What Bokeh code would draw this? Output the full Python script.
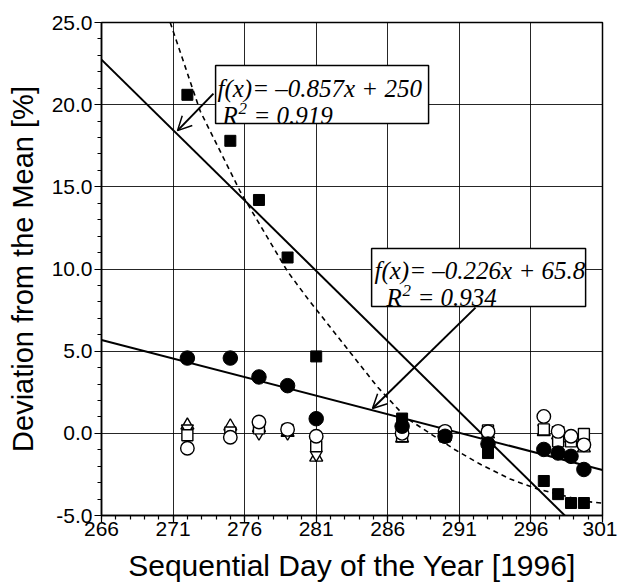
from bokeh.plotting import figure
from bokeh.models import FixedTicker, PrintfTickFormatter, Arrow, OpenHead
from bokeh.core.properties import value
from bokeh.embed import file_html
from bokeh.resources import INLINE

# ---- data ----
days = [272, 275, 277, 279, 281, 287, 290, 293, 296.9, 297.9, 298.8, 299.7]
filled_squares = [20.6, 17.8, 14.2, 10.7, 4.68, 0.9, -0.2, -1.2, -2.9, -3.7, -4.24, -4.24]
filled_circles = [4.58, 4.58, 3.43, 2.9, 0.89, 0.43, -0.18, -0.65, -0.98, -1.2, -1.4, -2.2]
open_circles = [-0.91, -0.24, 0.69, 0.24, -0.18, 0.0, 0.12, 0.1, 1.03, 0.12, -0.18, -0.7]
open_squares = [-0.12, 0.05, 0.3, 0.2, -0.79, -0.18, 0.05, 0.18, 0.24, -0.49, -0.49, -0.04]
open_triangles = [0.49, 0.43, 0.32, 0.05, -1.46, -0.3, -0.2, -0.05, 0.1, -0.1, -0.3, -0.9]
open_inv_triangles = [0.3, 0.1, 0.0, 0.0, -1.3, -0.1, 0.0, 0.0, 0.3, 0.2, -0.3, -0.6]

fit1_slope, fit1_icpt = -0.857, 250.7
fit2_slope, fit2_icpt = -0.226, 65.8
fit_x = [266, 301]

dash_x = [270.8, 272.9, 275.7, 279.0, 280.4, 285.3, 287.3, 290.7, 292.5, 294.6, 296.5, 299.9, 301.0]
dash_y = [25.0, 19.6, 14.7, 9.85, 8.2, 2.8, 0.93, -1.0, -1.9, -2.8, -3.4, -4.15, -4.25]

x_ticks = [266, 271, 276, 281, 286, 291, 296, 301]
y_ticks = [-5, 0, 5, 10, 15, 20, 25]

fit1_eq = "f(x)= \u20130.857x + 250"
fit1_r2 = "= 0.919"
fit2_eq = "f(x)= \u20130.226x + 65.8"
fit2_r2 = "= 0.934"

SANS = "Liberation Sans"
SERIF = "Liberation Serif"

p = figure(width=617, height=576, output_backend="svg", toolbar_location=None,
           x_range=(266, 301), y_range=(-5, 25),
           min_border_left=101, min_border_right=15, min_border_top=22, min_border_bottom=61)
p.frame_width = 501
p.frame_height = 493
p.background_fill_color = "white"
p.border_fill_color = "white"
p.outline_line_color = "black"
p.outline_line_width = 1.5

p.xaxis.ticker = FixedTicker(ticks=x_ticks, minor_ticks=list(range(266, 302)))
p.yaxis.ticker = FixedTicker(ticks=y_ticks, minor_ticks=list(range(-5, 26)))
p.yaxis.formatter = PrintfTickFormatter(format="%.1f")
for ax in (p.xaxis[0], p.yaxis[0]):
    ax.axis_line_color = "black"
    ax.axis_line_width = 1.5
    ax.major_tick_in = 0
    ax.major_tick_out = 7
    ax.minor_tick_in = 0
    ax.minor_tick_out = 4
    ax.major_tick_line_color = "black"
    ax.minor_tick_line_color = "black"
    ax.major_tick_line_width = 1.2
    ax.minor_tick_line_width = 1.2
    ax.major_label_text_font = SANS
    ax.major_label_text_font_size = "21px"
    ax.major_label_text_color = "black"
    ax.axis_label_text_font = SANS
    ax.axis_label_text_font_style = "normal"
    ax.axis_label_text_color = "black"
p.xaxis.axis_label = "Sequential Day of the Year [1996]"
p.yaxis.axis_label = "Deviation from the Mean [%]"
p.xaxis.axis_label_text_font_size = "30px"
p.yaxis.axis_label_text_font_size = "29px"
p.xaxis.major_label_standoff = -1
p.yaxis.major_label_standoff = 2
p.xaxis.axis_label_standoff = 10
p.yaxis.axis_label_standoff = 10

p.xgrid.grid_line_color = "black"
p.ygrid.grid_line_color = "black"
p.xgrid.grid_line_width = 1
p.ygrid.grid_line_width = 1
p.xgrid.grid_line_alpha = 0.85
p.ygrid.grid_line_alpha = 0.85

# fit lines
p.line(fit_x, [fit1_slope * x + fit1_icpt for x in fit_x], line_color="black", line_width=2)
p.line(fit_x, [fit2_slope * x + fit2_icpt for x in fit_x], line_color="black", line_width=2)
p.line(dash_x, dash_y, line_color="black", line_width=1.6, line_dash="5 4")

# markers
p.scatter(days, open_triangles, marker="triangle", size=13, fill_color="white",
          line_color="black", line_width=1.4)
p.scatter(days, open_inv_triangles, marker="inverted_triangle", size=12, fill_color="white",
          line_color="black", line_width=1.4)
p.scatter(days, open_squares, marker="square", size=11, fill_color="white",
          line_color="black", line_width=1.4)
p.scatter(days, open_circles, marker="circle", size=13.5, fill_color="white",
          line_color="black", line_width=1.4)
p.scatter(days, filled_circles, marker="circle", size=14.5, fill_color="black",
          line_color="black")
p.scatter(days, filled_squares, marker="square", size=11, fill_color="black",
          line_color="black")

# annotation boxes
p.quad(left=[273.97], right=[288.85], top=[22.38], bottom=[18.86],
       fill_color="white", line_color="black", line_width=1.5)
p.quad(left=[284.87], right=[299.82], top=[11.25], bottom=[7.72],
       fill_color="white", line_color="black", line_width=1.5)

def eq_block(x1, y1, x2, y2, eq, r2):
    common = dict(text_font=value(SERIF), text_font_style="italic", text_color="black",
                  text_align="left", text_baseline="alphabetic")
    p.text(x=[x1], y=[y1], text=[eq], text_font_size="25px", **common)
    p.text(x=[x2], y=[y2], text=["R"], text_font_size="25px", **common)
    p.text(x=[x2], y=[y2], text=["2"], text_font_size="17px", x_offset=16, y_offset=-7, **common)
    p.text(x=[x2], y=[y2], text=[r2], text_font_size="25px", x_offset=31, **common)

eq_block(274.10, 20.98, 274.45, 19.34, fit1_eq, fit1_r2)
eq_block(285.07, 9.91, 285.91, 8.26, fit2_eq, fit2_r2)

p.add_layout(Arrow(x_start=273.82, y_start=20.67, x_end=271.31, y_end=18.42,
                   line_color="black", line_width=2,
                   end=OpenHead(size=14, line_color="black", line_width=1.5)))
p.add_layout(Arrow(x_start=292.13, y_start=7.65, x_end=284.93, y_end=1.51,
                   line_color="black", line_width=2,
                   end=OpenHead(size=14, line_color="black", line_width=1.5)))

open("out.html", "w").write(file_html(p, INLINE))
